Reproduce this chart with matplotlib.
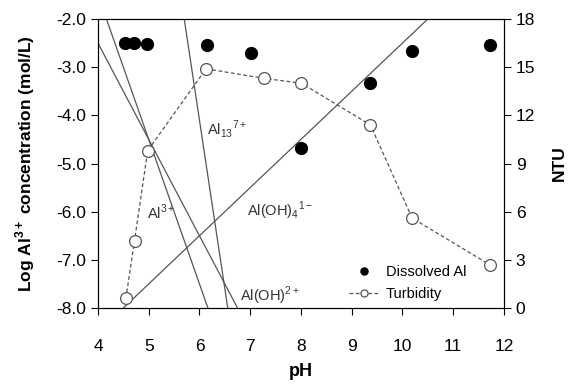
import matplotlib.pyplot as plt
import numpy as np

plt.rcParams['font.family'] = ['Liberation Sans', 'DejaVu Sans']
plt.rcParams['mathtext.fontset'] = 'custom'
plt.rcParams['mathtext.rm'] = 'Liberation Sans'
plt.rcParams['mathtext.bf'] = 'Liberation Sans:bold'

# dissolved Al (left axis, log mol/L)
al_ph = [4.53, 4.71, 4.97, 6.15, 7.01, 8.01, 9.37, 10.19, 11.72]
al_log = [-2.50, -2.50, -2.52, -2.54, -2.71, -4.67, -3.33, -2.66, -2.54]

# turbidity (right axis, NTU)
turb_ph = [4.55, 4.72, 4.98, 6.13, 7.28, 8.01, 9.37, 10.19, 11.72]
turb_ntu = [0.6, 4.2, 9.8, 14.9, 14.3, 14.0, 11.4, 5.6, 2.7]

# species solubility lines: log C = a + b*pH
species = ["Al3+", "Al(OH)2+", "Al13 7+", "Al(OH)4-"]
line_a = [10.5, 5.5, 37.9, -12.5]
line_b = [-3.0, -2.0, -7.0, 1.0]

fig = plt.figure(figsize=(5.75, 3.85), dpi=100)
ax = fig.add_axes([0.1704, 0.2, 0.706, 0.7506])
ax2 = ax.twinx()

ph = np.linspace(4, 12, 400)
for a, b in zip(line_a, line_b):
    ax.plot(ph, a + b * ph, color="#555555", lw=0.9, zorder=2)

ax.plot(al_ph, al_log, 'o', color="black", ms=8.5, ls="none", label="Dissolved Al", zorder=4)
ax2.plot(turb_ph, turb_ntu, '--o', color="#555555", mfc="white", mec="#555555",
         ms=8.5, lw=0.9, mew=0.9, dashes=(3, 2), label="Turbidity", zorder=3)

ax.set_xlim(4, 12)
ax.set_ylim(-8, -2)
ax2.set_ylim(0, 18)
ax.set_xticks(range(4, 13))
ax.set_yticks(np.arange(-8, -1.9, 1.0))
ax.set_yticklabels(["%.1f" % v for v in np.arange(-8, -1.9, 1.0)])
ax2.set_yticks(range(0, 19, 3))

ax.tick_params(labelsize=12.5, length=5, width=0.8, direction="out")
ax2.tick_params(labelsize=12.5, length=5, width=0.8, direction="out")
ax.tick_params(axis="x", pad=17)

ax.set_xlabel("pH", fontsize=13, fontweight="bold", labelpad=7)
ax.set_ylabel("Log Al$^{\\mathbf{3+}}$ concentration (mol/L)", fontsize=12.5, fontweight="bold", labelpad=14)
ax2.set_ylabel("NTU", fontsize=12.5, fontweight="bold", labelpad=12)

lab_col = "#333333"
ax.text(4.97, -6.15, "Al$^{3+}$", fontsize=10.5, color=lab_col)
ax.text(6.15, -4.4, "Al$_{13}$$^{7+}$", fontsize=10.5, color=lab_col)
ax.text(6.93, -6.1, "Al(OH)$_4$$^{1-}$", fontsize=10.5, color=lab_col)
ax.text(6.8, -7.85, "Al(OH)$^{2+}$", fontsize=10.5, color=lab_col)

h1, l1 = ax.get_legend_handles_labels()
h2, l2 = ax2.get_legend_handles_labels()
leg = ax2.legend(h1 + h2, l1 + l2, loc="lower right", bbox_to_anchor=(0.94, -0.02),
                 frameon=False, fontsize=10.5, markerscale=0.6, handlelength=2.0,
                 handletextpad=0.5, labelspacing=0.5)

fig.savefig("out.png", dpi=100)
